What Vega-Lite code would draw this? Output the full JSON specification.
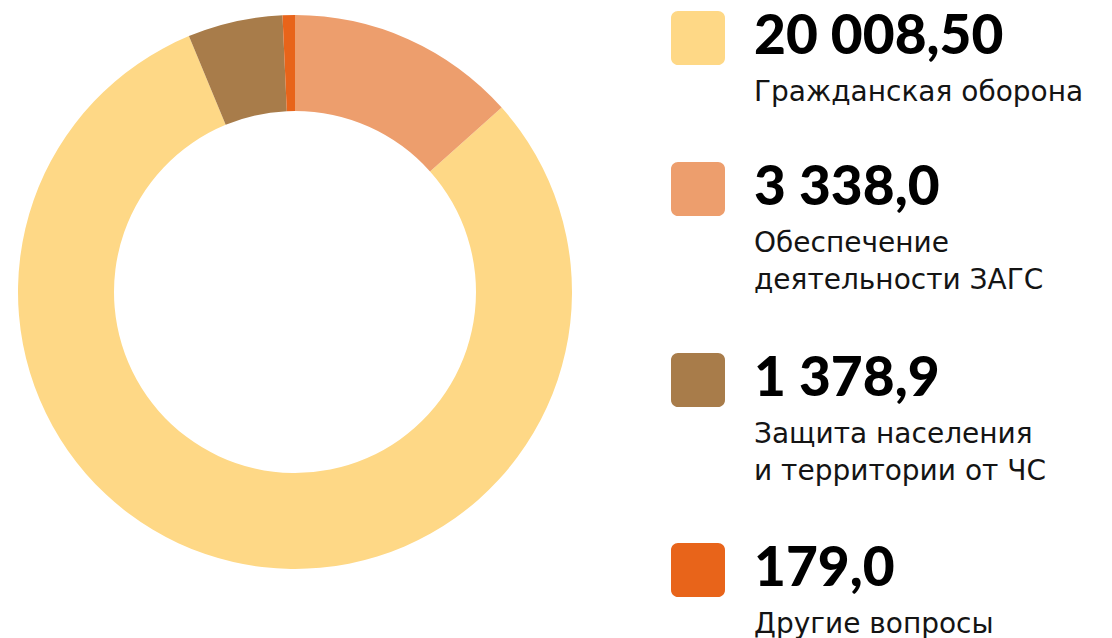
{
  "$schema": "https://vega.github.io/schema/vega-lite/v6.json",
  "padding": 0,
  "spacing": 0,
  "background": "white",
  "config": {"view": {"stroke": null}},
  "data": {"values": [
    {"ord": 1, "seq": 2, "name": "Гражданская оборона", "value": 20008.5, "label": "20 008,50"},
    {"ord": 2, "seq": 1, "name": "Обеспечение\nдеятельности ЗАГС", "value": 3338.0, "label": "3 338,0"},
    {"ord": 3, "seq": 3, "name": "Защита населения\nи территории от ЧС", "value": 1378.9, "label": "1 378,9"},
    {"ord": 4, "seq": 4, "name": "Другие вопросы", "value": 179.0, "label": "179,0"}
  ]},
  "hconcat": [
    {
      "width": 590,
      "height": 584,
      "mark": {"type": "arc", "outerRadius": 277, "innerRadius": 181, "stroke": null},
      "encoding": {
        "theta": {"field": "value", "type": "quantitative", "stack": true},
        "order": {"field": "seq", "type": "quantitative"},
        "color": {"field": "ord", "type": "ordinal", "legend": null,
          "scale": {"domain": [1, 2, 3, 4], "range": ["#FED886", "#ED9E6D", "#A87C4A", "#E8641A"]}}
      }
    },
    {
      "width": 522,
      "height": 638,
      "encoding": {
        "y": {"field": "ord", "type": "quantitative", "axis": null,
          "scale": {"type": "linear", "domain": [1, 2, 3, 4], "range": [38, 189, 380, 570], "zero": false, "nice": false}}
      },
      "layer": [
        {
          "mark": {"type": "point", "filled": true, "opacity": 1, "size": 2916,
            "shape": "M-0.74,-1H0.74A0.26,0.26 0 0 1 1,-0.74V0.74A0.26,0.26 0 0 1 0.74,1H-0.74A0.26,0.26 0 0 1 -1,0.74V-0.74A0.26,0.26 0 0 1 -0.74,-1Z"},
          "encoding": {
            "x": {"datum": "swatch", "type": "ordinal", "axis": null,
              "scale": {"type": "point", "padding": 0, "domain": ["swatch", "text"], "range": [108, 164]}},
            "color": {"field": "ord", "type": "ordinal", "legend": null,
              "scale": {"domain": [1, 2, 3, 4], "range": ["#FED886", "#ED9E6D", "#A87C4A", "#E8641A"]}}
          }
        },
        {
          "mark": {"type": "text", "align": "left", "baseline": "alphabetic", "dy": 16,
            "font": "Lato", "fontWeight": 900, "fontSize": 55, "color": "#000000"},
          "encoding": {
            "x": {"datum": "text", "type": "ordinal", "axis": null,
              "scale": {"type": "point", "padding": 0, "domain": ["swatch", "text"], "range": [108, 164]}},
            "text": {"field": "label"}
          }
        },
        {
          "mark": {"type": "text", "align": "left", "baseline": "alphabetic", "dy": 63,
            "lineBreak": "\n", "lineHeight": 37,
            "font": "DejaVu Sans", "fontWeight": 400, "fontSize": 28, "color": "#141414"},
          "encoding": {
            "x": {"datum": "text", "type": "ordinal", "axis": null,
              "scale": {"type": "point", "padding": 0, "domain": ["swatch", "text"], "range": [108, 164]}},
            "text": {"field": "name"}
          }
        }
      ]
    }
  ]
}
